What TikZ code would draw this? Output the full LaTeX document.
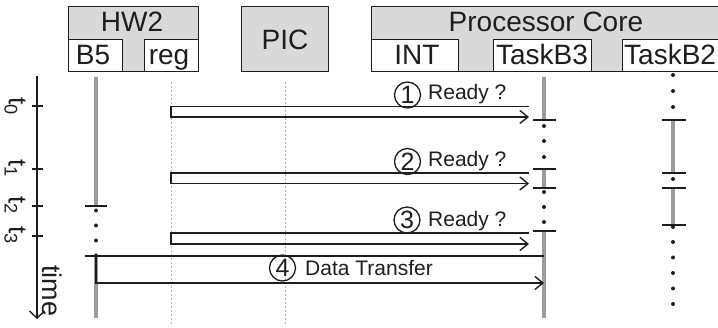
\documentclass[tikz,border=0pt]{standalone}
\usepackage{fontspec}
\setmainfont{Liberation Sans}
\usetikzlibrary{arrows.meta}
\definecolor{boxfill}{HTML}{D9D9D9}
\definecolor{lifegray}{HTML}{9C9C9C}
\definecolor{dashgray}{HTML}{B4B4B4}
\definecolor{ink}{HTML}{1E1E1E}
\begin{document}
\begin{tikzpicture}[x=1pt,y=-1pt,
  outerbox/.style={draw=ink, line width=1.4pt, fill=boxfill, anchor=north west, inner sep=0pt, minimum height=65pt},
  subbox/.style={draw=ink, line width=1.4pt, fill=white, anchor=north west, inner sep=0pt, minimum height=32pt},
  big/.style={font=\fontsize{28}{30}\selectfont, text=ink, inner sep=0pt, anchor=base},
  small/.style={font=\fontsize{21}{24}\selectfont, text=ink, inner sep=0pt, anchor=base west},
  lifebar/.style={draw=lifegray, line width=4.5pt},
  lifedash/.style={draw=dashgray, line width=0.8pt, dash pattern=on 2pt off 2pt},
  tickmark/.style={draw=ink, line width=1.4pt},
  dotmark/.style={fill=ink},
  msg/.style={draw=ink, line width=1.4pt, -{Straight Barb[length=8pt,width=13pt]}},
  num/.style={draw=ink, line width=1.3pt, circle, minimum size=26pt, inner sep=0pt, font=\fontsize{25}{26}\selectfont, text=ink},
  tlabel/.style={rotate=-90, font=\fontsize{26}{28}\selectfont, text=ink, inner sep=0pt}
]
\useasboundingbox (0,0) rectangle (718,328);
\clip (0,0) rectangle (718,328);

% header boxes
\node[outerbox, minimum width=130pt] (hw2) at (68,6) {};
\node[subbox, minimum width=54pt] (b5) at (68,39) {};
\node[subbox, minimum width=54pt] (regbox) at (144,39) {};
\node[outerbox, minimum width=87pt] (pic) at (241,6) {};
\node[outerbox, minimum width=380pt] (core) at (371,6) {};
\node[subbox, minimum width=87pt] (int) at (371,39) {};
\node[subbox, minimum width=98pt] (tb3) at (493,39) {};
\node[subbox, minimum width=120pt] (tb2) at (622,39) {};

\node[big] (lhw2) at (132,32) {HW2};
\node[big] (lb5) at (93,65) {B5};
\node[big] (lreg) at (169,65) {reg};
\node[big] (lpic) at (285,50) {PIC};
\node[big] (lcore) at (546,32) {Processor Core};
\node[big] (lint) at (417,65) {INT};
\node[big] (ltb3) at (542,65) {TaskB3};
\node[big, anchor=base west] (ltb2) at (624,65) {TaskB2};

% time axis
\coordinate (ttop) at (37,76);
\coordinate (tbot) at (37,319);
\draw[draw=ink, line width=1.4pt, -{Straight Barb[length=7pt,width=15pt]}] (ttop) -- (tbot);
\foreach \y in {106,169,206,236} \draw[tickmark] (32,\y) -- (43,\y);
\node[tlabel] (t0) at (15,106) {t\textsubscript{0}};
\node[tlabel] (t1) at (15,168) {t\textsubscript{1}};
\node[tlabel] (t2) at (15,205) {t\textsubscript{2}};
\node[tlabel] (t3) at (15,235) {t\textsubscript{3}};
\node[tlabel, font=\fontsize{27}{30}\selectfont] (timel) at (52.5,291) {time};

% lifelines
\draw[lifedash] (171,82) -- (171,326);
\draw[lifedash] (285,82) -- (285,326);

\draw[lifebar] (96,77) -- (96,206);
\draw[lifebar] (96,256) -- (96,318);
\draw[tickmark] (85,206) -- (107,206);
\foreach \y in {210.5,225.5,240.5,255.5} \fill[dotmark] (96,\y) circle (2);

\draw[lifebar] (544,77) -- (544,120);
\draw[lifebar] (544,169) -- (544,188);
\draw[lifebar] (544,231) -- (544,318);
\foreach \y in {120,169,188,231} \draw[tickmark] (533,\y) -- (556,\y);
\foreach \y in {126,141,157,192,207,222} \fill[dotmark] (544,\y) circle (2);

\draw[lifebar] (673,120) -- (673,173);
\draw[lifebar] (673,188) -- (673,225);
\foreach \y in {120,173,188,225} \draw[tickmark] (662,\y) -- (686,\y);
\foreach \y in {75,91,107,179,227,242,257.5,273,288.5,304} \fill[dotmark] (673,\y) circle (2);

% messages
\coordinate (m1a) at (529,106.5); \coordinate (m1b) at (171,106.5);
\coordinate (m1c) at (171,117);   \coordinate (m1d) at (529,117);
\draw[msg] (m1a) -- (m1b) -- (m1c) -- (m1d);
\coordinate (m2a) at (529,173); \coordinate (m2b) at (171,173);
\coordinate (m2c) at (171,183.5); \coordinate (m2d) at (529,183.5);
\draw[msg] (m2a) -- (m2b) -- (m2c) -- (m2d);
\coordinate (m3a) at (529,233); \coordinate (m3b) at (171,233);
\coordinate (m3c) at (171,244); \coordinate (m3d) at (529,244);
\draw[msg] (m3a) -- (m3b) -- (m3c) -- (m3d);
\coordinate (m4a) at (544,256); \coordinate (m4b) at (85,256);
\coordinate (m4c) at (96,256); \coordinate (m4d) at (96,283); \coordinate (m4e) at (544,283);
\draw[tickmark] (m4a) -- (m4b);
\draw[msg] (m4c) -- (m4d) -- (m4e);

% labels
\node[num] (c1) at (407.5,95) {1};
\node[num] (c2) at (407.5,161.5) {2};
\node[num] (c3) at (407,220) {3};
\node[num] (c4) at (282.5,268) {4};
\node[small] (r1) at (428,100) {Ready ?};
\node[small] (r2) at (428,166.5) {Ready ?};
\node[small] (r3) at (428,227) {Ready ?};
\node[small] (dt) at (305,276) {Data Transfer};
\end{tikzpicture}
\end{document}
